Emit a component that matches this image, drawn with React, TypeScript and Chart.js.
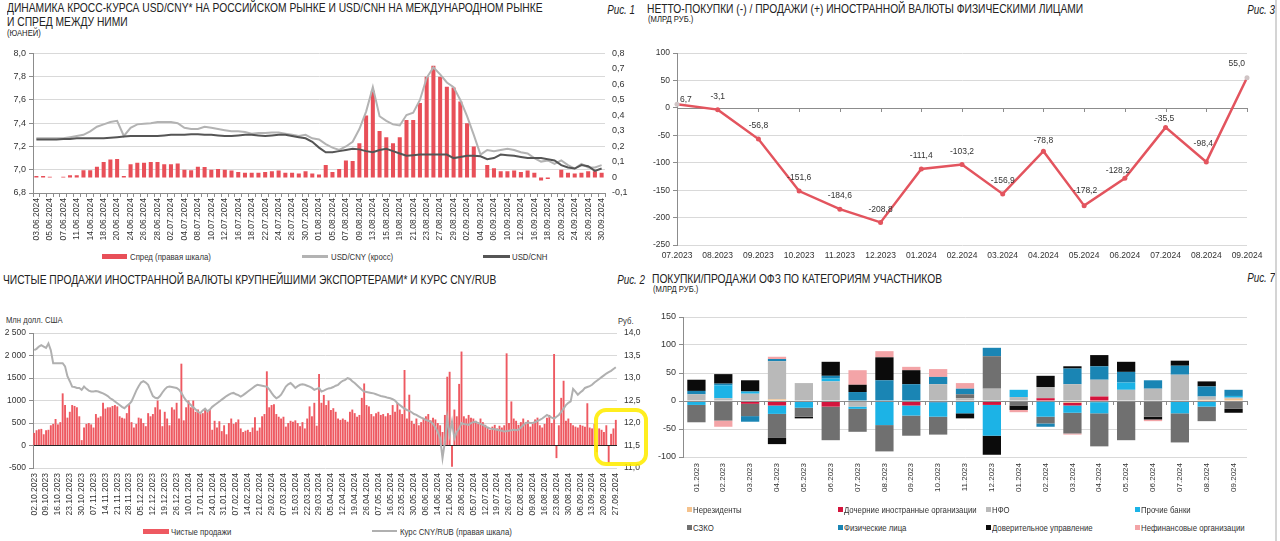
import React, { useEffect, useRef } from "react";
import { Chart, registerables } from "chart.js";

Chart.register(...registerables);

const FONT = '"Liberation Sans", Arial, sans-serif';
Chart.defaults.font.family = FONT;
Chart.defaults.color = "#333";
if (typeof document !== "undefined") {
  document.body.style.margin = "0";
}

// ---------------- Рис. 1 ----------------
const dates1 = [
  "03.06.2024","04.06.2024","05.06.2024","06.06.2024","07.06.2024","10.06.2024","11.06.2024","13.06.2024","14.06.2024","17.06.2024",
  "18.06.2024","19.06.2024","20.06.2024","21.06.2024","24.06.2024","25.06.2024","26.06.2024","27.06.2024","28.06.2024",
  "01.07.2024","02.07.2024","03.07.2024","04.07.2024","05.07.2024","08.07.2024","09.07.2024","10.07.2024","11.07.2024","12.07.2024",
  "15.07.2024","16.07.2024","17.07.2024","18.07.2024","19.07.2024","22.07.2024","23.07.2024","24.07.2024","25.07.2024","26.07.2024",
  "29.07.2024","30.07.2024","31.07.2024",
  "01.08.2024","02.08.2024","05.08.2024","06.08.2024","07.08.2024","08.08.2024","09.08.2024","12.08.2024","13.08.2024","14.08.2024",
  "15.08.2024","16.08.2024","19.08.2024","20.08.2024","21.08.2024","22.08.2024","23.08.2024","26.08.2024","27.08.2024","28.08.2024",
  "29.08.2024","30.08.2024",
  "02.09.2024","03.09.2024","04.09.2024","05.09.2024","06.09.2024","09.09.2024","10.09.2024","11.09.2024","12.09.2024","13.09.2024",
  "16.09.2024","17.09.2024","18.09.2024","19.09.2024","20.09.2024","23.09.2024","24.09.2024","25.09.2024","26.09.2024","27.09.2024",
  "30.09.2024",
];
const spread1 = [
  0.01, 0.01, 0.005, 0.0, 0.005, 0.015, 0.015, 0.047, 0.047, 0.07,
  0.10, 0.116, 0.12, 0.01, 0.086, 0.095, 0.095, 0.10, 0.10, 0.086,
  0.086, 0.09, 0.05, 0.047, 0.07, 0.067, 0.05, 0.055, 0.05, 0.045,
  0.035, 0.03, 0.03, 0.03, 0.035, 0.04, 0.045, 0.03, 0.03, 0.025,
  0.04, 0.025, 0.02, 0.08, 0.035, 0.055, 0.11, 0.107, 0.22, 0.40,
  0.56, 0.30, 0.26, 0.22, 0.26, 0.37, 0.37, 0.48, 0.65, 0.72,
  0.65, 0.585, 0.58, 0.49, 0.35, 0.20, 0.0, 0.08, 0.06, 0.04,
  0.04, 0.045, 0.035, 0.045, 0.03, -0.02, -0.01, 0.0, 0.05, 0.03,
  0.025, 0.03, 0.04, 0.04, 0.03,
];
const usdCnyCross = [
  7.27, 7.27, 7.27, 7.27, 7.27, 7.28, 7.29, 7.30, 7.33, 7.37,
  7.39, 7.41, 7.42, 7.29, 7.36, 7.39, 7.395, 7.40, 7.41, 7.41,
  7.41, 7.40, 7.36, 7.35, 7.35, 7.37, 7.36, 7.35, 7.34, 7.33,
  7.33, 7.325, 7.31, 7.315, 7.315, 7.32, 7.32, 7.31, 7.30, 7.29,
  7.30, 7.27, 7.26, 7.22, 7.19, 7.17, 7.20, 7.24, 7.35, 7.50,
  7.71, 7.46, 7.42, 7.39, 7.38, 7.47, 7.49, 7.60, 7.79, 7.88,
  7.82, 7.75, 7.71, 7.60, 7.46, 7.30, 7.13, 7.17, 7.16, 7.17,
  7.18, 7.17, 7.15, 7.14, 7.10, 7.07, 7.08, 7.05, 7.08, 7.04,
  7.01, 7.05, 7.02, 7.02, 7.04,
];
const usdCnh = [
  7.26, 7.26, 7.26, 7.26, 7.265, 7.265, 7.27, 7.27, 7.27, 7.27,
  7.27, 7.275, 7.28, 7.285, 7.29, 7.29, 7.29, 7.29, 7.29, 7.295,
  7.30, 7.30, 7.30, 7.305, 7.305, 7.30, 7.30, 7.295, 7.29, 7.29,
  7.295, 7.30, 7.30, 7.295, 7.29, 7.295, 7.30, 7.30, 7.29, 7.28,
  7.27, 7.24, 7.19, 7.15, 7.15, 7.16, 7.17, 7.18, 7.175, 7.16,
  7.15, 7.17, 7.18, 7.16, 7.14, 7.12, 7.125, 7.13, 7.13, 7.13,
  7.13, 7.13, 7.10, 7.11, 7.12, 7.12, 7.115, 7.09, 7.10, 7.13,
  7.125, 7.12, 7.11, 7.10, 7.10, 7.10, 7.09, 7.08, 7.04, 7.02,
  7.01, 7.04, 7.03, 6.99, 7.01,
];

// ---------------- Рис. 3 ----------------
const months3 = [
  "07.2023","08.2023","09.2023","10.2023","11.2023","12.2023","01.2024","02.2024",
  "03.2024","04.2024","05.2024","06.2024","07.2024","08.2024","09.2024",
];
const netFx3 = [6.7, -3.1, -56.8, -151.6, -184.6, -208.8, -111.4, -103.2, -156.9, -78.8, -178.2, -128.2, -35.5, -98.4, 55.0];

// ---------------- Рис. 2 ----------------
const weeks2 = [
  "02.10.2023","09.10.2023","16.10.2023","23.10.2023","30.10.2023","07.11.2023","14.11.2023","21.11.2023","28.11.2023","05.12.2023",
  "12.12.2023","19.12.2023","26.12.2023","10.01.2024","17.01.2024","24.01.2024","31.01.2024","07.02.2024","14.02.2024","21.02.2024",
  "29.02.2024","07.03.2024","15.03.2024","22.03.2024","29.03.2024","05.04.2024","12.04.2024","19.04.2024","26.04.2024","07.05.2024",
  "16.05.2024","23.05.2024","30.05.2024","06.06.2024","14.06.2024","21.06.2024","28.06.2024","05.07.2024","12.07.2024","19.07.2024",
  "26.07.2024","02.08.2024","09.08.2024","16.08.2024","23.08.2024","30.08.2024","06.09.2024","13.09.2024","20.09.2024","27.09.2024",
];
const netSales2 = [
  280, 340, 360, 370, 250,   340, 350, 450, 480, 590,   470, 520, 1160, 900, 620,   750, 900, 880, 850, 650,
  120, 400, 480, 500, 470,   400, 700, 620, 650, 950,   820, 850, 850, 880, 900,   870, 650, 620, 600, 720,
  900, 520, 400, 480, 620,   600, 500, 430, 720, 650,   700, 850, 1000, 800, 430,  750, 600, 450, 850, 800,
  950, 600, 1820, 560, 850,  1000, 850, 1000, 750, 800, 700, 720, 800, 750, 800,   350, 550, 400, 540, 320,
  450, 250, 500, 600, 480,   520, 580, 380, 300, 330,   350, 300, 400, 630, 330,   400, 650, 700, 1650, 850,
  900, 920, 700, 640, 600,   640, 420, 500, 550, 530,   560, 500, 430, 520, 380,   600, 870, 650, 950, 440,
  1590, 950, 1125, 900, 1000, 790, 830, 750, 600, 570,  600, 570, 530, 750, 800,   720, 640, 680, 1060, 1380,
  900, 870, 700, 650, 720,   750, 680, 700, 650, 720,   680, 900, 750, 950, 800,   700, 1680, 600, 1130, 550,
  480, 600, 450, 520, 600,   650, 700, 560, 620, 580,   500, 450, 300, 680, 1530,  1640, -470, 800, 650, 1370,
  2090, 650, 600, 680, 620,  600, 550, 480, 600, 520,   460, 400, 350, 420, 460,   380, 440, 400, 450, 2050,
  500, 980, 600, 550, 460,   520, 600, 480, 560, 420,   500, 580, 620, 450, 400,   480, 620, 680, 500, 2035,
  -280, 450, 1060, 1440, 550, 600, 500, 450, 420, 400,  460, 440, 420, 940, 400,   380, 480, -150, 380, 350,
  300, 450, -390, 260, 380,  570,
];
const cnyRub2 = [
  13.62, 13.65, 13.70, 13.73, 13.70,  13.67, 13.77, 13.62, 13.33, 13.33,  13.33, 13.33, 13.33, 13.26, 13.04,
  12.93, 12.81, 12.80, 12.78, 12.78,  12.74, 12.81, 12.76, 12.72, 12.70,  12.70, 12.71, 12.70, 12.68, 12.66,
  12.63, 12.60, 12.55, 12.52, 12.48,  12.44, 12.40, 12.36, 12.33, 12.38,  12.42, 12.48, 12.60, 12.72, 12.82,
  12.90, 12.93, 12.90, 12.85, 12.72,  12.60, 12.56, 12.55, 12.60, 12.68,  12.75, 12.80, 12.81, 12.80, 12.79,
  12.78, 12.74, 12.67, 12.58, 12.50,  12.45, 12.40, 12.35, 12.30, 12.25,  12.22, 12.28, 12.32, 12.26, 12.30,
  12.36, 12.40, 12.44, 12.48, 12.52,  12.56, 12.60, 12.63, 12.66, 12.67,  12.64, 12.62, 12.59, 12.62, 12.66,
  12.70, 12.74, 12.78, 12.82, 12.85,  12.84, 12.83, 12.82, 12.81, 12.75,  12.67, 12.60, 12.55, 12.58, 12.63,
  12.72, 12.81, 12.86, 12.89, 12.84,  12.78, 12.82, 12.85, 12.86, 12.85,  12.83, 12.81, 12.78, 12.74, 12.76,
  12.78, 12.70, 12.72, 12.75, 12.77,  12.78, 12.80, 12.83, 12.85, 12.90,  12.94, 12.96, 13.00, 12.98, 12.93,
  12.89, 12.84, 12.79, 12.74, 12.70,  12.69, 12.68, 12.67, 12.66, 12.64,  12.62, 12.60, 12.59, 12.58, 12.56,
  12.55, 12.53, 12.50, 12.44, 12.40,  12.36, 12.32, 12.29, 12.27, 12.24,  12.20, 12.18, 12.15, 12.12, 12.10,
  12.07, 12.05, 12.03, 11.98, 11.90,  11.80, 11.66, 11.22, 11.58, 12.10,  11.73, 12.03, 11.66, 11.80, 11.88,
  12.00, 11.98, 11.97, 11.96, 12.00,  12.02, 12.03, 12.00, 11.98, 11.96,  11.93, 11.90, 11.88, 11.87, 11.86,
  11.85, 11.84, 11.83, 11.81, 11.82,  11.83, 11.84, 11.85, 11.84, 11.85,  11.90, 11.95, 12.00, 12.01, 12.00,
  12.00, 12.02, 12.05, 12.07, 12.10,  12.14, 12.18, 12.15, 12.12, 12.10,  12.14, 12.18, 12.25, 12.32, 12.40,
  12.45, 12.48, 12.76, 12.70, 12.63,  12.68, 12.72, 12.78, 12.80, 12.82,  12.85, 12.90, 12.94, 12.98, 13.02,
  13.06, 13.10, 13.13, 13.16, 13.20,  13.24,
];
const leftTicks2 = ["-500", "0", "500", "1000", "1500", "2 000", "2 500"];
const cats2: string[] = [];
weeks2.forEach((w, i) => {
  cats2.push(w);
  if (i < weeks2.length - 1) cats2.push("", "", "", "");
});

// ---------------- Рис. 7 ----------------
const months7 = [
  "01.2023","02.2023","03.2023","04.2023","05.2023","06.2023","07.2023","08.2023","09.2023","10.2023","11.2023",
  "12.2023","01.2024","02.2024","03.2024","04.2024","05.2024","06.2024","07.2024","08.2024","09.2024",
];
const ofzNonres   = [0, 0, 0, 3, 0, 0, 0, 0, 0, 0, 0, 0, 0, 0, -3, -2, 0, 0, 0, 2, 4];
const ofzSubs     = [0, 0, -5, -8, 0, -10, 0, 0, -8, -2, 0, -7, 0, 5, -5, 8, 0, 0, 0, 0, 0];
const ofzNfo      = [12, 5, 13, 68, 32, 35, -10, 0, 0, 30, 5, 22, 7, 20, 30, 30, 20, 22, 47, 6, 2];
const ofzBanks    = [-7, 23, 4, -15, -12, 5, -4, -43, -18, -26, -22, -55, 13, -28, -13, -20, 13, 0, -22, -10, 3];
const ofzSzko     = [-31, -35, -22, -43, -16, -60, -41, -47, -36, -32, 7, 58, -8, -12, -37, -59, -70, -28, -52, -26, -14];
const ofzHouse    = [6, 3, -10, 4, 0, 5, 16, 37, 30, 13, 10, 15, 0, -6, 28, 24, 19, 15, 16, 18, 11];
const ofzTrust    = [20, 17, 20, -11, -3, 25, 13, 41, 25, 0, -9, -34, -8, 20, 4, 20, 18, -5, 9, 9, -7];
const ofzNonfin   = [0, -11, 0, 4, 0, 0, 26, 11, 6, 14, 10, 0, -4, 0, -2, 0, 0, -3, 0, 0, 0];

const C7 = {
  nonres: "#f5c28c",
  subs: "#d4143c",
  nfo: "#b9b9b9",
  banks: "#1cb3e6",
  szko: "#707070",
  house: "#1a85b4",
  trust: "#0b0b0b",
  nonfin: "#f3a4a7",
};

// ---------------- helpers ----------------
const fmtComma = (v: number, d = 1) => Number(v).toFixed(d).replace(".", ",");
const GRID = "#d9d9d9";
const AXIS = "#8c8c8c";

function zeroAxisPlugin(boundaries: boolean, after: boolean) {
  const draw = (chart: any) => {
    const ctx = chart.ctx;
    const y = chart.scales.y.getPixelForValue(0);
    const { left, right } = chart.chartArea;
    const xs = chart.scales.x;
    const n = chart.data.labels.length;
    ctx.save();
    ctx.strokeStyle = AXIS;
    ctx.lineWidth = 1;
    ctx.beginPath();
    ctx.moveTo(left, Math.round(y) + 0.5);
    ctx.lineTo(right, Math.round(y) + 0.5);
    const count = boundaries ? n + 1 : n;
    for (let i = 0; i < count; i++) {
      const x = boundaries ? xs.getPixelForValue(i - 0.5) : xs.getPixelForValue(i);
      ctx.moveTo(Math.round(x) + 0.5, Math.round(y));
      ctx.lineTo(Math.round(x) + 0.5, Math.round(y) + 4);
    }
    ctx.stroke();
    ctx.restore();
  };
  return after
    ? { id: "zeroAxis", afterDatasetsDraw: draw }
    : { id: "zeroAxis", beforeDatasetsDraw: draw };
}

// label placement tweaks (pixel offsets relative to point), style only
const labelShift3: Record<number, [number, number]> = {
  9: [0, -10],
  10: [1, -15],
  11: [-7, -8],
  12: [-1, -9],
  13: [-3, -18],
};

const valueLabels3 = {
  id: "valueLabels3",
  afterDatasetsDraw(chart: any) {
    const meta = chart.getDatasetMeta(0);
    const ctx = chart.ctx;
    const last = meta.data.length - 1;
    ctx.save();
    ctx.font = `8.5px ${FONT}`;
    ctx.fillStyle = "#333";
    ctx.textBaseline = "middle";
    meta.data.forEach((pt: any, i: number) => {
      let x = pt.x;
      let y = pt.y - 13;
      ctx.textAlign = "center";
      if (i === 0) {
        ctx.textAlign = "left";
        x = pt.x + 3;
        y = pt.y - 5;
      } else if (i === last) {
        ctx.textAlign = "right";
        x = pt.x - 2;
        y = pt.y - 14;
      } else if (labelShift3[i]) {
        x = pt.x + labelShift3[i][0];
        y = pt.y + labelShift3[i][1];
      }
      ctx.fillText(fmtComma(netFx3[i]), x, y);
    });
    ctx.restore();
  },
};

const baseOpts = {
  responsive: true,
  maintainAspectRatio: false,
  animation: false,
  plugins: { legend: { display: false }, tooltip: { enabled: false } },
};

// ---------------- configs ----------------
const cfg1 = () => ({
  type: "bar",
  data: {
    labels: dates1,
    datasets: [
      { type: "line", label: "USD/CNH", data: usdCnh, yAxisID: "y", borderColor: "#555555", borderWidth: 2, pointRadius: 0, order: 0 },
      { type: "line", label: "USD/CNY (кросс)", data: usdCnyCross, yAxisID: "y", borderColor: "#b3b3b3", borderWidth: 2, pointRadius: 0, order: 1 },
      { type: "bar", label: "Спред (правая шкала)", data: spread1, yAxisID: "y1", backgroundColor: "#e84f58", barPercentage: 0.6, categoryPercentage: 1, order: 2 },
    ],
  },
  options: {
    ...baseOpts,
    layout: { padding: { top: 8, left: 0, right: 0, bottom: 0 } },
    scales: {
      x: {
        grid: { display: true, drawOnChartArea: false, drawTicks: true, tickLength: 4, color: AXIS },
        border: { display: true, color: AXIS },
        ticks: {
          autoSkip: false, maxRotation: 90, minRotation: 90, padding: 1,
          font: { size: 8.5 },
          callback: (_v: any, i: number) => (i % 2 === 0 ? dates1[i] : ""),
        },
        afterFit: (s: any) => { s.height = 52; },
      },
      y: {
        position: "left", min: 6.8, max: 8.0,
        ticks: { stepSize: 0.2, callback: (v: any) => fmtComma(v), font: { size: 9 }, padding: 3 },
        grid: { color: GRID, tickColor: AXIS, tickLength: 4 },
        border: { display: true, color: AXIS },
        afterFit: (s: any) => { s.width = 33; },
      },
      y1: {
        position: "right", min: -0.1, max: 0.8,
        ticks: { stepSize: 0.1, callback: (v: any) => (Math.abs(v) < 1e-9 ? "0" : fmtComma(v)), font: { size: 9 }, padding: 3 },
        grid: { display: false, drawOnChartArea: false, tickLength: 4 },
        border: { display: false },
        afterFit: (s: any) => { s.width = 35; },
      },
    },
  },
});

const cfg3 = () => ({
  type: "line",
  data: {
    labels: months3,
    datasets: [
      {
        data: netFx3,
        borderColor: "#e3545e",
        borderWidth: 2.5,
        pointRadius: 2.5,
        pointBorderWidth: 0,
        pointBackgroundColor: months3.map((_, i) => (i === 0 || i === months3.length - 1 ? "#cfc4c5" : "#e3545e")),
        tension: 0,
      },
    ],
  },
  options: {
    ...baseOpts,
    layout: { padding: { top: 8, right: 33, left: 0, bottom: 0 } },
    scales: {
      x: {
        offset: false,
        grid: { display: false, drawTicks: false },
        border: { display: false },
        ticks: { autoSkip: false, maxRotation: 0, padding: 6, font: { size: 8.5 } },
        afterFit: (s: any) => { s.height = 20; },
      },
      y: {
        min: -250, max: 100,
        ticks: { stepSize: 50, font: { size: 8.5 }, padding: 3 },
        grid: { color: (c: any) => (c.tick && c.tick.value === 0 ? "rgba(0,0,0,0)" : GRID), tickColor: AXIS, tickLength: 4 },
        border: { display: true, color: AXIS },
        afterFit: (s: any) => { s.width = 37; },
      },
    },
  },
  plugins: [zeroAxisPlugin(false, false), valueLabels3],
});

const cfg2 = () => ({
  type: "bar",
  data: {
    labels: cats2,
    datasets: [
      { type: "line", label: "Курс CNY/RUB (правая шкала)", data: cnyRub2, yAxisID: "y1", borderColor: "#b0b0b0", borderWidth: 2, pointRadius: 0, order: 0 },
      { type: "bar", label: "Чистые продажи", data: netSales2, yAxisID: "y", backgroundColor: "#ee5961", barPercentage: 0.8, categoryPercentage: 1, order: 1 },
    ],
  },
  options: {
    ...baseOpts,
    layout: { padding: { top: 8, left: 0, right: 0, bottom: 0 } },
    scales: {
      x: {
        grid: { display: false, drawTicks: false },
        border: { display: false },
        ticks: { autoSkip: false, maxRotation: 90, minRotation: 90, padding: 5, font: { size: 8.5 } },
        afterFit: (s: any) => { s.height = 52; },
      },
      y: {
        min: -500, max: 2500,
        ticks: { stepSize: 500, callback: (_v: any, i: number) => leftTicks2[i], font: { size: 8.5 }, padding: 3 },
        grid: { color: (c: any) => (c.tick && c.tick.value === 0 ? "#262626" : GRID), tickColor: AXIS, tickLength: 4 },
        border: { display: true, color: AXIS },
        afterFit: (s: any) => { s.width = 33; },
      },
      y1: {
        position: "right", min: 11, max: 14,
        ticks: { stepSize: 0.5, callback: (v: any) => fmtComma(v), font: { size: 8.5 }, padding: 3 },
        grid: { display: false, drawOnChartArea: false, tickLength: 4 },
        border: { display: false },
        afterFit: (s: any) => { s.width = 33; },
      },
    },
  },
});

const series7 = [
  { label: "Нерезиденты", data: ofzNonres, color: C7.nonres },
  { label: "Дочерние иностранные организации", data: ofzSubs, color: C7.subs },
  { label: "НФО", data: ofzNfo, color: C7.nfo },
  { label: "Прочие банки", data: ofzBanks, color: C7.banks },
  { label: "СЗКО", data: ofzSzko, color: C7.szko },
  { label: "Физические лица", data: ofzHouse, color: C7.house },
  { label: "Доверительное управление", data: ofzTrust, color: C7.trust },
  { label: "Нефинансовые организации", data: ofzNonfin, color: C7.nonfin },
];

const cfg7 = () => ({
  type: "bar",
  data: {
    labels: months7,
    datasets: series7.map((s) => ({
      label: s.label,
      data: s.data,
      backgroundColor: s.color,
      stack: "a",
      barPercentage: 0.68,
      categoryPercentage: 1,
    })),
  },
  options: {
    ...baseOpts,
    layout: { padding: { top: 9, right: 33, left: 0, bottom: 0 } },
    scales: {
      x: {
        stacked: true,
        grid: { display: false, drawTicks: false },
        border: { display: false },
        ticks: { autoSkip: false, maxRotation: 90, minRotation: 90, padding: 6, font: { size: 8 } },
        afterFit: (s: any) => { s.height = 41; },
      },
      y: {
        stacked: true,
        min: -100, max: 150,
        ticks: { stepSize: 50, font: { size: 9 }, padding: 3 },
        grid: { color: (c: any) => (c.tick && c.tick.value === 0 ? "rgba(0,0,0,0)" : GRID), tickColor: AXIS, tickLength: 4 },
        border: { display: true, color: AXIS },
        afterFit: (s: any) => { s.width = 43; },
      },
    },
  },
  plugins: [zeroAxisPlugin(true, true)],
});

// ---------------- components ----------------
function ChartBox(props: { left: number; top: number; width: number; height: number; make: () => any }) {
  const ref = useRef<HTMLCanvasElement | null>(null);
  useEffect(() => {
    if (!ref.current) return;
    const chart = new Chart(ref.current, props.make());
    return () => chart.destroy();
  }, []);
  return (
    <div style={{ position: "absolute", left: props.left, top: props.top, width: props.width, height: props.height }}>
      <canvas ref={ref} />
    </div>
  );
}

function T(props: { x?: number; r?: number; y: number; s?: number; italic?: boolean; color?: string; sx?: number; children: any }) {
  const sx = props.sx ?? 0.82;
  const st: any = {
    position: "absolute",
    top: props.y,
    fontSize: props.s ?? 9.5,
    lineHeight: 1,
    fontFamily: FONT,
    color: props.color ?? "#333",
    whiteSpace: "nowrap",
    fontStyle: props.italic ? "italic" : "normal",
    transform: `scaleX(${sx})`,
  };
  if (props.r !== undefined) {
    st.right = props.r;
    st.transformOrigin = "right top";
  } else {
    st.left = props.x;
    st.transformOrigin = "left top";
  }
  return <div style={st}>{props.children}</div>;
}

function Box(props: { x: number; y: number; w: number; h: number; c: string }) {
  return <div style={{ position: "absolute", left: props.x, top: props.y, width: props.w, height: props.h, background: props.c }} />;
}

const TITLE = 13;
const TSX = 0.79;
const TC = "#222";

export default function App() {
  const legend7Cols = [687, 838, 986, 1135];
  const legend7Rows = [509.5, 527.5];
  return (
    <div style={{ position: "relative", width: 1280, height: 541, background: "#fff", overflow: "hidden", fontFamily: FONT }}>
      {/* Рис. 1 */}
      <T x={7} y={1.3} s={TITLE} sx={TSX} color={TC}>ДИНАМИКА КРОСС-КУРСА USD/CNY* НА РОССИЙСКОМ РЫНКЕ И USD/CNH НА МЕЖДУНАРОДНОМ РЫНКЕ</T>
      <T x={7} y={15} s={TITLE} sx={TSX} color={TC}>И СПРЕД МЕЖДУ НИМИ</T>
      <T x={7} y={28.5} s={9} sx={0.85} color={TC}>(ЮАНЕЙ)</T>
      <T r={645} y={3.5} s={12} italic color={TC}>Рис. 1</T>
      <ChartBox left={0} top={45} width={640} height={200} make={cfg1} />
      <Box x={102} y={254} w={25} h={5} c="#e84f58" />
      <T x={130} y={251.5} s={9.5}>Спред (правая шкала)</T>
      <Box x={302} y={255} w={26} h={2.5} c="#b3b3b3" />
      <T x={331} y={251.5} s={9.5}>USD/CNY (кросс)</T>
      <Box x={483} y={255} w={27} h={2.5} c="#555555" />
      <T x={512} y={251.5} s={9.5}>USD/CNH</T>

      {/* Рис. 3 */}
      <T x={647} y={1.6} s={TITLE} sx={TSX} color={TC}>НЕТТО-ПОКУПКИ (-) / ПРОДАЖИ (+) ИНОСТРАННОЙ ВАЛЮТЫ ФИЗИЧЕСКИМИ ЛИЦАМИ</T>
      <T x={648} y={15.2} s={9} sx={0.85} color={TC}>(МЛРД РУБ.)</T>
      <T r={5} y={3.5} s={12} italic color={TC}>Рис. 3</T>
      <ChartBox left={640} top={45} width={640} height={220} make={cfg3} />

      {/* Рис. 2 */}
      <T x={3} y={273.4} s={TITLE} sx={TSX} color={TC}>ЧИСТЫЕ ПРОДАЖИ ИНОСТРАННОЙ ВАЛЮТЫ КРУПНЕЙШИМИ ЭКСПОРТЕРАМИ* И КУРС CNY/RUB</T>
      <T r={635} y={274} s={12} italic color={TC}>Рис. 2</T>
      <T x={6} y={315.5} s={9} sx={0.85}>Млн долл. США</T>
      <T x={618} y={316.5} s={9} sx={0.85}>Руб.</T>
      <ChartBox left={0} top={325} width={650} height={195} make={cfg2} />
      <Box x={143} y={528.5} w={26} h={5} c="#ee5961" />
      <T x={171} y={526.5} s={9.5}>Чистые продажи</T>
      <Box x={372} y={529.5} w={25} h={2.5} c="#b0b0b0" />
      <T x={400} y={526.5} s={9.5}>Курс CNY/RUB (правая шкала)</T>
      <div style={{ position: "absolute", left: 594, top: 408, width: 46, height: 50, border: "4px solid rgba(255,236,0,0.88)", borderRadius: 12 }} />

      {/* Рис. 7 */}
      <T x={652} y={272} s={TITLE} sx={TSX} color={TC}>ПОКУПКИ/ПРОДАЖИ ОФЗ ПО КАТЕГОРИЯМ УЧАСТНИКОВ</T>
      <T x={653} y={285.2} s={9} sx={0.85} color={TC}>(МЛРД РУБ.)</T>
      <T r={5} y={272} s={12} italic color={TC}>Рис. 7</T>
      <ChartBox left={640} top={308} width={640} height={190} make={cfg7} />
      {[
        [0, 0, 0], [1, 0, 1], [2, 0, 2], [3, 0, 3],
        [4, 1, 0], [5, 1, 1], [6, 1, 2], [7, 1, 3],
      ].map(([si, row, col]) => {
        const s = series7[si];
        const cy = legend7Rows[row];
        const x = legend7Cols[col];
        return (
          <React.Fragment key={si}>
            <Box x={x} y={cy - 2.5} w={5} h={5} c={s.color} />
            <T x={x + 6} y={cy - 4.7} s={9.5}>{s.label}</T>
          </React.Fragment>
        );
      })}

      <div style={{ position: "absolute", left: 1275, top: 0, width: 2, height: 541, background: "#d4d4d4" }} />
    </div>
  );
}
